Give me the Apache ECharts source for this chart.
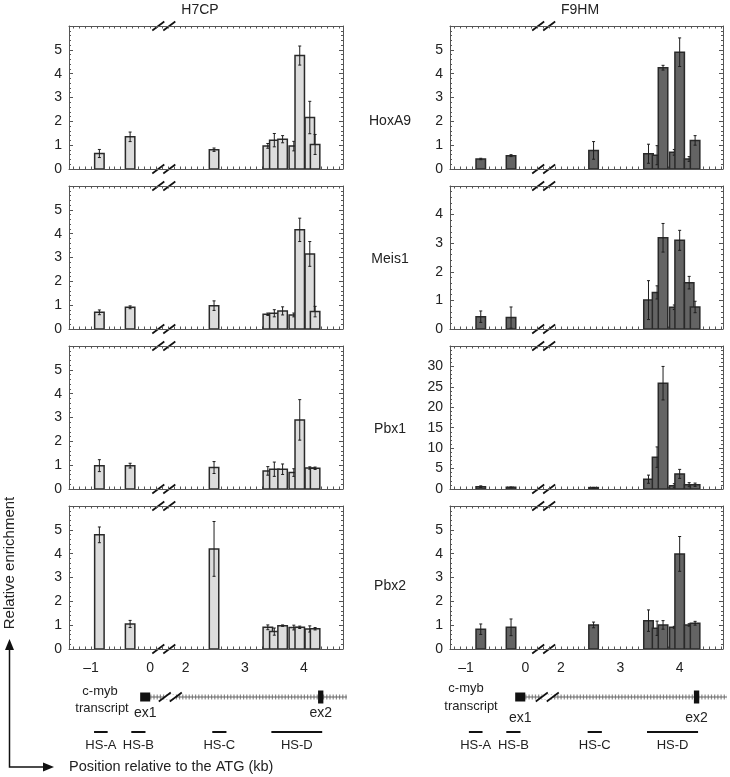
<!DOCTYPE html>
<html>
<head>
<meta charset="utf-8">
<script src="https://cdn.jsdelivr.net/npm/echarts@6/dist/echarts.min.js"></script>
<style>html,body{margin:0;padding:0;background:#fff}#main{width:730px;height:777px}</style>
</head>
<body>
<div id="main"></div>
<script>
// amplicon centres, kb relative to the ATG (each cell line panel read separately)
var ampliconsH7CP = [-0.86, -0.34, 2.48, 3.39, 3.50, 3.64, 3.83, 3.93, 4.10, 4.19];
var ampliconsF9HM = [-0.75, -0.24, 2.55, 3.475, 3.62, 3.72, 3.91, 4.00, 4.16, 4.26];

var cellLines = ['H7CP', 'F9HM'];
var factors = ['HoxA9', 'Meis1', 'Pbx1', 'Pbx2'];
var xTickKb = [-1, 0, 2, 3, 4];

// H7CP
var hoxa9H7CP    = [0.65, 1.35, 0.81, 0.97, 1.21, 1.25, 0.96, 4.76, 2.16, 1.03];
var hoxa9H7CPErr = [0.17, 0.20, 0.07, 0.10, 0.28, 0.15, 0.20, 0.40, 0.68, 0.42];
var meis1H7CP    = [0.70, 0.91, 0.98, 0.62, 0.66, 0.76, 0.59, 4.16, 3.15, 0.73];
var meis1H7CPErr = [0.10, 0.06, 0.20, 0.05, 0.15, 0.17, 0.08, 0.49, 0.52, 0.22];
var pbx1H7CP     = [0.98, 0.98, 0.90, 0.76, 0.83, 0.83, 0.69, 2.90, 0.88, 0.87];
var pbx1H7CPErr  = [0.25, 0.10, 0.25, 0.18, 0.30, 0.22, 0.16, 0.85, 0.05, 0.05];
var pbx2H7CP     = [4.79, 1.05, 4.20, 0.91, 0.73, 0.98, 0.90, 0.91, 0.84, 0.85];
var pbx2H7CPErr  = [0.33, 0.15, 1.15, 0.10, 0.15, 0.03, 0.10, 0.05, 0.13, 0.05];

// F9HM
var hoxa9F9HM    = [0.42, 0.56, 0.78, 0.64, 0.58, 4.25, 0.70, 4.90, 0.42, 1.20];
var hoxa9F9HMErr = [0.03, 0.04, 0.37, 0.40, 0.40, 0.10, 0.12, 0.60, 0.10, 0.20];
var meis1F9HM    = [0.43, 0.40, 0,    1.01, 1.28, 3.19, 0.76, 3.10, 1.62, 0.77];
var meis1F9HMErr = [0.20, 0.37, 0,    0.68, 0.23, 0.50, 0.08, 0.35, 0.22, 0.20];
var pbx1F9HM     = [0.57, 0.40, 0.35, 2.4,  7.8,  25.9, 0.8,  3.7,  1.05, 1.05];
var pbx1F9HMErr  = [0.2,  0.1,  0.05, 1.0,  2.5,  4.1,  0.5,  1.1,  0.5,  0.4];
var pbx2F9HM     = [0.83, 0.91, 1.01, 1.19, 0.87, 1.01, 0.91, 3.99, 1.01, 1.08];
var pbx2F9HMErr  = [0.22, 0.35, 0.12, 0.45, 0.30, 0.18, 0.04, 0.73, 0.05, 0.08];

var yMaxF9HM = [6, 5, 35, 6];
var yStepF9HM = [1, 1, 5, 1];

// c-myb gene features (kb)
var exon1Kb = [-0.17, 0];
var exon2Kb = [4.24, 4.33];
var hsNames = ['HS-A', 'HS-B', 'HS-C', 'HS-D'];
var hsStartKb = [-0.95, -0.32, 2.45, 3.45];
var hsEndKb   = [-0.72, -0.08, 2.69, 4.31];

// broken x axis: 0..2 kb gap squeezed
function kbToAxis(kb) { return kb < 1 ? kb : kb - 1.4; }
function axisToKb(u) { return u < 0.3 ? u : u + 1.4; }

var FONT = '"Liberation Sans", Arial, Helvetica, sans-serif';
var BAR_KB = 0.16;
var COL_LEFT = [69, 450], COL_WIDTH = [274, 273];
var ROW_TOP = [26, 186, 346, 506], ROW_H = 143;
var AXIS_MIN = [-1.374, -1.268], AXIS_MAX = [3.262, 3.330];
var BREAK_U = [0.23, 0.31];
var FILL = ['#dcdcdc', '#646464'];

var valuesByCol = [
    [[hoxa9H7CP, hoxa9H7CPErr], [meis1H7CP, meis1H7CPErr], [pbx1H7CP, pbx1H7CPErr], [pbx2H7CP, pbx2H7CPErr]],
    [[hoxa9F9HM, hoxa9F9HMErr], [meis1F9HM, meis1F9HMErr], [pbx1F9HM, pbx1F9HMErr], [pbx2F9HM, pbx2F9HMErr]]
];
var posByCol = [ampliconsH7CP, ampliconsF9HM];

function renderBars(fill) {
    return function (params, api) {
        var x = api.value(0), v = api.value(1), e = api.value(2);
        if (!v) return null;
        var p0 = api.coord([x - BAR_KB / 2, v]);
        var p1 = api.coord([x + BAR_KB / 2, 0]);
        var t = api.coord([x, v + e]);
        var b = api.coord([x, Math.max(v - e, 0)]);
        var ls = {stroke: '#1e1e1e', lineWidth: 1};
        return {
            type: 'group',
            children: [
                {type: 'rect', shape: {x: p0[0], y: p0[1], width: p1[0] - p0[0], height: p1[1] - p0[1]},
                    style: {fill: fill, stroke: '#2a2a2a', lineWidth: 1.5}},
                {type: 'line', shape: {x1: t[0], y1: t[1], x2: b[0], y2: b[1]}, style: ls},
                {type: 'line', shape: {x1: t[0] - 1.5, y1: t[1], x2: t[0] + 1.5, y2: t[1]}, style: ls},
                {type: 'line', shape: {x1: b[0] - 1.5, y1: b[1], x2: b[0] + 1.5, y2: b[1]}, style: ls}
            ]
        };
    };
}

var grids = [], xAxes = [], yAxes = [], series = [];
for (var c = 0; c < 2; c++) {
    var ticks = [];
    for (var t = Math.ceil(AXIS_MIN[c] * 10); t <= Math.floor(AXIS_MAX[c] * 10); t++) ticks.push(t / 10);
    for (var r = 0; r < 4; r++) {
        var g = grids.length;
        var last = r === 3;
        grids.push({left: COL_LEFT[c], top: ROW_TOP[r], width: COL_WIDTH[c], height: ROW_H});
        var lineStyle = {color: '#555', width: 1};
        ['bottom', 'top'].forEach(function (pos) {
            xAxes.push({
                gridIndex: g, type: 'value', position: pos, min: AXIS_MIN[c], max: AXIS_MAX[c],
                axisLine: {onZero: false, lineStyle: lineStyle},
                axisTick: {inside: true, length: 2.5, customValues: ticks, lineStyle: lineStyle},
                axisLabel: {
                    show: pos === 'bottom' && last,
                    customValues: xTickKb.map(kbToAxis),
                    margin: 12, fontSize: 14, color: '#222', fontFamily: FONT,
                    formatter: function (v) {
                        var k = Math.round(axisToKb(v));
                        return k < 0 ? '\u2013' + (-k) : String(k);
                    }
                },
                splitLine: {show: false}
            });
        });
        var yMax = c === 0 ? 6 : yMaxF9HM[r];
        var yStep = c === 0 ? 1 : yStepF9HM[r];
        ['left', 'right'].forEach(function (pos) {
            yAxes.push({
                gridIndex: g, type: 'value', position: pos, min: 0, max: yMax, interval: yStep,
                axisLine: {show: true, onZero: false, lineStyle: lineStyle},
                axisTick: {inside: true, length: 4, lineStyle: lineStyle},
                minorTick: {show: true, splitNumber: 5, length: 2, lineStyle: lineStyle},
                axisLabel: {show: pos === 'left', showMaxLabel: false, margin: 7, fontSize: 14,
                    color: '#222', fontFamily: FONT},
                splitLine: {show: false}
            });
        });
        var vals = valuesByCol[c][r];
        series.push({
            type: 'custom', xAxisIndex: 2 * g, yAxisIndex: 2 * g, clip: true,
            renderItem: renderBars(FILL[c]),
            data: posByCol[c].map(function (kb, i) { return [kbToAxis(kb), vals[0][i], vals[1][i]]; })
        });
    }
}

var chart = echarts.init(document.getElementById('main'));
chart.setOption({
    animation: false,
    grid: grids, xAxis: xAxes, yAxis: yAxes, series: series
});

// ---- annotations ----
function txt(s, x, y, size, align, rot) {
    return {type: 'text', x: x, y: y, rotation: rot || 0, silent: true,
        style: {text: s, fill: '#222', font: size + 'px ' + FONT,
            textAlign: align || 'center', textVerticalAlign: 'middle', align: align || 'center', verticalAlign: 'middle'}};
}
function slashes(x, y, gap) {
    var h = 4.5, w = 6;
    return [
        {type: 'rect', shape: {x: x - gap / 2, y: y - 2, width: gap, height: 4}, style: {fill: '#fff'}, silent: true},
        {type: 'line', shape: {x1: x - gap / 2 - w, y1: y + h, x2: x - gap / 2 + w, y2: y - h}, style: {stroke: '#111', lineWidth: 1.7}, silent: true},
        {type: 'line', shape: {x1: x + gap / 2 - w, y1: y + h, x2: x + gap / 2 + w, y2: y - h}, style: {stroke: '#111', lineWidth: 1.7}, silent: true}
    ];
}
function xPix(axisIdx, u) { return chart.convertToPixel({xAxisIndex: axisIdx}, u); }

var gfx = [];
gfx.push(txt(cellLines[0], 200, 10, 14));
gfx.push(txt(cellLines[1], 580, 10, 14));
var rowLabelY = [121, 259, 429, 586];
factors.forEach(function (f, r) { gfx.push(txt(f, 390, rowLabelY[r], 14)); });

for (var c2 = 0; c2 < 2; c2++) {
    for (var r2 = 0; r2 < 4; r2++) {
        var gi = c2 * 4 + r2;
        var bx = xPix(2 * gi, BREAK_U[c2]);
        gfx = gfx.concat(slashes(bx, ROW_TOP[r2], 11), slashes(bx, ROW_TOP[r2] + ROW_H, 11));
    }
    // gene diagram under the bottom panel
    var ax = 2 * (c2 * 4 + 3);
    var yT = 697;
    var e1a = xPix(ax, kbToAxis(exon1Kb[0])), e1b = xPix(ax, kbToAxis(exon1Kb[1]));
    var e2a = xPix(ax, kbToAxis(exon2Kb[0])), e2b = xPix(ax, kbToAxis(exon2Kb[1]));
    var endX = COL_LEFT[c2] + COL_WIDTH[c2] + 4;
    gfx.push({type: 'line', shape: {x1: e1b, y1: yT, x2: endX, y2: yT}, style: {stroke: '#8a8a8a', lineWidth: 5, lineDash: [1.2, 2.0]}, silent: true});
    gfx.push({type: 'line', shape: {x1: e1b, y1: yT, x2: endX, y2: yT}, style: {stroke: '#666', lineWidth: 1.2}, silent: true});
    gfx = gfx.concat(slashes(xPix(ax, c2 === 0 ? 0.34 : 0.37), yT, 11));
    gfx.push({type: 'rect', shape: {x: e1a, y: yT - 4.5, width: e1b - e1a, height: 9}, style: {fill: '#111'}, silent: true});
    gfx.push({type: 'rect', shape: {x: e2a, y: yT - 6.5, width: e2b - e2a, height: 13}, style: {fill: '#111'}, silent: true});
    var exLabelY = c2 === 0 ? 713 : 718;
    gfx.push(txt('ex1', (e1a + e1b) / 2, exLabelY, 14));
    gfx.push(txt('ex2', (e2a + e2b) / 2, exLabelY, 14));
    gfx.push(txt('c-myb', c2 === 0 ? 100 : 466, c2 === 0 ? 691 : 688, 13));
    gfx.push(txt('transcript', c2 === 0 ? 102 : 471, c2 === 0 ? 708 : 706, 13));
    hsNames.forEach(function (name, i) {
        var a = xPix(ax, kbToAxis(hsStartKb[i])), b = xPix(ax, kbToAxis(hsEndKb[i]));
        gfx.push({type: 'line', shape: {x1: a, y1: 732, x2: b, y2: 732}, style: {stroke: '#111', lineWidth: 2}, silent: true});
        gfx.push(txt(name, (a + b) / 2, 745, 13));
    });
}

// axis arrows and titles
gfx.push({type: 'polyline', shape: {points: [[9.5, 648], [9.5, 767], [46, 767]]}, style: {stroke: '#111', lineWidth: 1.5, fill: null}, silent: true});
gfx.push({type: 'polygon', shape: {points: [[9.5, 639], [5, 650], [14, 650]]}, style: {fill: '#111'}, silent: true});
gfx.push({type: 'polygon', shape: {points: [[54, 767], [43, 762.5], [43, 771.5]]}, style: {fill: '#111'}, silent: true});
gfx.push(txt('Relative enrichment', 10, 563, 15, 'center', Math.PI / 2));
gfx.push(txt('Position relative to the ATG (kb)', 69, 767, 14.5, 'left'));

chart.setOption({graphic: gfx});
</script>
</body>
</html>
